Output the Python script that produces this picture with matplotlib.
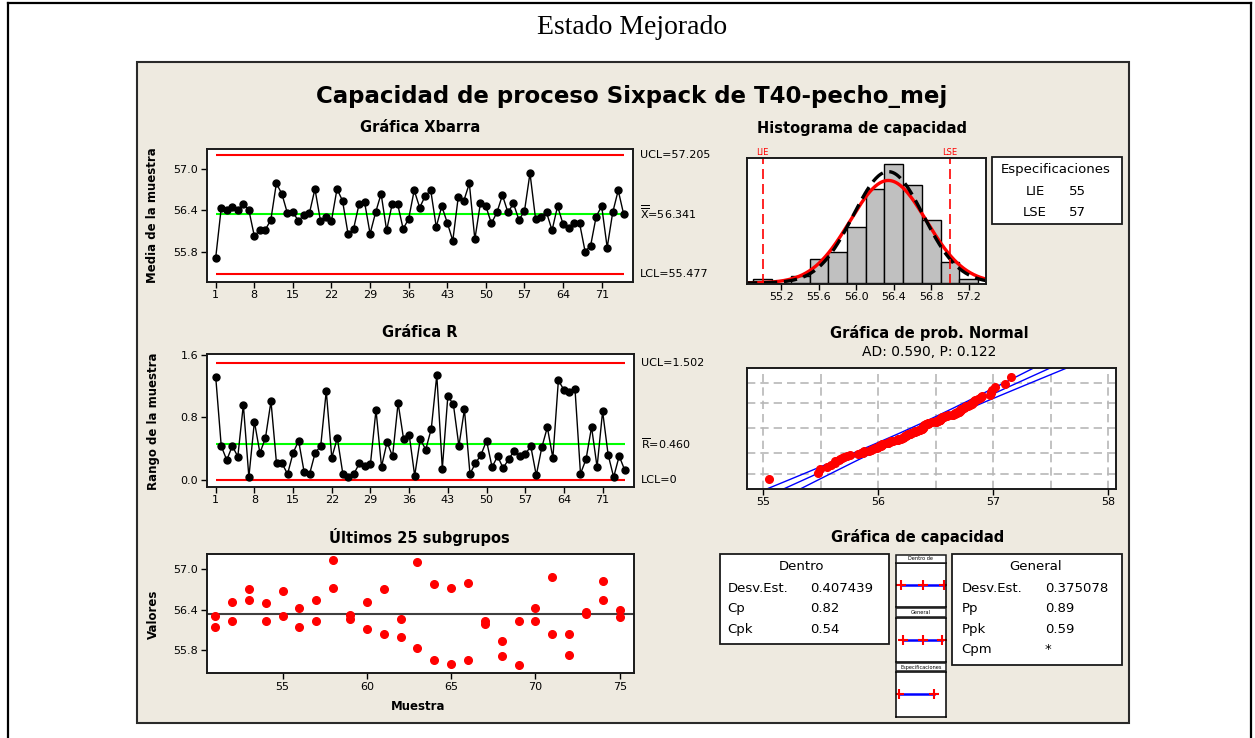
import numpy as np
import matplotlib
matplotlib.use("Agg")
import matplotlib.pyplot as plt
from matplotlib.patches import Rectangle
from matplotlib.lines import Line2D
from statistics import NormalDist

# Medias y rangos de los 75 subgrupos (tamaño 2)
xbar = [55.71, 56.43, 56.41, 56.45, 56.41, 56.49, 56.41, 56.03, 56.11, 56.12,
        56.26, 56.79, 56.64, 56.36, 56.37, 56.25, 56.33, 56.36, 56.71, 56.25,
        56.30, 56.25, 56.71, 56.54, 56.06, 56.13, 56.49, 56.52, 56.06, 56.37,
        56.64, 56.11, 56.49, 56.49, 56.13, 56.28, 56.69, 56.44, 56.61, 56.69,
        56.16, 56.46, 56.22, 55.96, 56.60, 56.54, 56.79, 55.98, 56.50, 56.46,
        56.21, 56.37, 56.62, 56.37, 56.50, 56.26, 56.39, 56.94, 56.28, 56.31,
        56.37, 56.11, 56.46, 56.20, 56.15, 56.21, 56.21, 55.80, 55.89, 56.31,
        56.46, 55.86, 56.37, 56.69, 56.34]
rango = [1.320, 0.435, 0.256, 0.435, 0.300, 0.964, 0.038, 0.747, 0.346, 0.538,
         1.007, 0.213, 0.213, 0.077, 0.346, 0.503, 0.102, 0.081, 0.350, 0.435,
         1.139, 0.286, 0.538, 0.081, 0.034, 0.081, 0.213, 0.175, 0.209, 0.896,
         0.171, 0.484, 0.303, 0.986, 0.520, 0.582, 0.055, 0.522, 0.390, 0.655,
         1.342, 0.147, 1.073, 0.968, 0.435, 0.904, 0.081, 0.213, 0.324, 0.503,
         0.166, 0.303, 0.154, 0.265, 0.375, 0.303, 0.328, 0.435, 0.060, 0.418,
         0.674, 0.282, 1.276, 1.152, 1.122, 1.169, 0.081, 0.265, 0.678, 0.166,
         0.879, 0.324, 0.038, 0.307, 0.128]

# Observaciones individuales de los últimos 25 subgrupos (51-75)
ultimos_sub = list(range(51, 76))
ultimos_a = [56.31, 56.52, 56.70, 56.50, 56.67, 56.42, 56.55, 57.13, 56.32, 56.52,
             56.70, 56.27, 57.11, 56.78, 56.72, 56.80, 56.23, 55.94, 56.24, 56.42,
             56.88, 56.04, 56.37, 56.83, 56.40]
ultimos_b = [56.14, 56.24, 56.55, 56.24, 56.31, 56.14, 56.24, 56.72, 56.26, 56.11,
             56.04, 55.99, 55.83, 55.66, 55.60, 55.66, 56.19, 55.71, 55.58, 56.24,
             56.04, 55.73, 56.34, 56.55, 56.29]

# Histograma (centro de clase, frecuencia)
hist_centros = [55.0, 55.2, 55.4, 55.6, 55.8, 56.0, 56.2, 56.4, 56.6, 56.8, 57.0, 57.2]
hist_frec = [1, 0, 2, 7, 9, 16, 27, 34, 28, 18, 6, 1]

# Estadísticos
media = 56.341
ucl_x, lcl_x = 57.205, 55.477
r_media, ucl_r, lcl_r = 0.460, 1.502, 0.0
lie, lse = 55, 57
s_dentro, s_general = 0.407439, 0.375078
n_total = 150
ancho_clase = 0.2
dentro_txt = [("Desv.Est.", "0.407439"), ("Cp", "0.82"), ("Cpk", "0.54")]
general_txt = [("Desv.Est.", "0.375078"), ("Pp", "0.89"), ("Ppk", "0.59"), ("Cpm", "*")]

W, H = 1255, 738
plt.rcParams['font.family'] = ['DejaVu Sans']
fig = plt.figure(figsize=(W / 100, H / 100), dpi=100)
fig.patch.set_facecolor('white')


def caja(l, t, r, b):
    return [l / W, 1 - b / H, (r - l) / W, (b - t) / H]


def texto(x, y, s, **kw):
    return fig.text(x / W, 1 - y / H, s, **kw)


def rect(l, t, r, b, **kw):
    fig.add_artist(Rectangle((l / W, 1 - b / H), (r - l) / W, (b - t) / H,
                             transform=fig.transFigure, **kw))


def linea(x0, y0, x1, y1, **kw):
    fig.add_artist(Line2D([x0 / W, x1 / W], [1 - y0 / H, 1 - y1 / H],
                          transform=fig.transFigure, **kw))


def estilo(ax):
    for sp in ax.spines.values():
        sp.set_linewidth(1.4)
        sp.set_color('#1a1a1a')
    ax.tick_params(direction='out', length=4, width=1, labelsize=8, pad=2)


# marco exterior y fondo del panel
linea(8, 3, 1251, 3, color='black', lw=1.6)
linea(8, 3, 8, 738, color='black', lw=1.6)
linea(1251, 3, 1251, 738, color='black', lw=1.6)
rect(137, 62, 1129, 723, facecolor='#EEEAE0', edgecolor='#2a2a2a', lw=1.5, zorder=-5)

texto(632, 27, 'Estado Mejorado', family='Liberation Serif', fontsize=20,
      ha='center', va='center')
texto(632, 96, 'Capacidad de proceso Sixpack de T40-pecho_mej', fontsize=16.5,
      fontweight='bold', ha='center', va='center')

sub = np.arange(1, len(xbar) + 1)
tit = dict(fontsize=10.5, fontweight='bold', ha='center', va='center')
ylab = dict(fontsize=8.5, fontweight='bold', rotation=90, ha='center', va='center')

# Gráfica Xbarra
ax1 = fig.add_axes(caja(206.7, 149, 633, 281.7))
ax1.hlines([ucl_x, lcl_x], 1, 75, color='red', lw=1.5)
ax1.hlines(media, 1, 75, color='#00FF00', lw=1.5)
ax1.plot(sub, xbar, '-o', color='black', ms=5, lw=1)
ax1.set_xlim(-0.63, 76.68)
ax1.set_ylim(55.365, 57.29)
ax1.set_xticks(np.arange(1, 76, 7))
ax1.set_yticks([55.8, 56.4, 57.0])
ax1.set_yticklabels(['55.8', '56.4', '57.0'])
estilo(ax1)
tr = ax1.get_yaxis_transform()
ax1.text(1.016, ucl_x, f'UCL={ucl_x:.3f}', transform=tr, fontsize=8, va='center')
ax1.text(1.016, media + 0.03, r'$\overline{\overline{\mathrm{X}}}$' + f'={media:.3f}',
         transform=tr, fontsize=8, va='center')
ax1.text(1.016, lcl_x, f'LCL={lcl_x:.3f}', transform=tr, fontsize=8, va='center')
texto(420, 128, 'Gráfica Xbarra', **tit)
texto(153, 215, 'Media de la muestra', **ylab)

# Gráfica R
ax2 = fig.add_axes(caja(206.7, 354.3, 634, 486.7))
ax2.hlines([ucl_r, lcl_r], 1, 75, color='red', lw=1.5)
ax2.hlines(r_media, 1, 75, color='#00FF00', lw=1.5)
ax2.plot(sub, rango, '-o', color='black', ms=5, lw=1)
ax2.set_xlim(-0.63, 76.68)
ax2.set_ylim(-0.085, 1.608)
ax2.set_xticks(np.arange(1, 76, 7))
ax2.set_yticks([0.0, 0.8, 1.6])
ax2.set_yticklabels(['0.0', '0.8', '1.6'])
estilo(ax2)
tr = ax2.get_yaxis_transform()
ax2.text(1.016, ucl_r, f'UCL={ucl_r:.3f}', transform=tr, fontsize=8, va='center')
ax2.text(1.016, r_media, r'$\overline{\mathrm{R}}$' + f'={r_media:.3f}',
         transform=tr, fontsize=8, va='center')
ax2.text(1.016, lcl_r, 'LCL=0', transform=tr, fontsize=8, va='center')
texto(420, 333, 'Gráfica R', **tit)
texto(153, 421, 'Rango de la muestra', **ylab)

# Últimos 25 subgrupos
ax3 = fig.add_axes(caja(206.7, 554.3, 634, 673.3))
ax3.axhline(media, color='#404040', lw=1.5)
ax3.plot(ultimos_sub, ultimos_a, 'o', color='red', ms=5.5)
ax3.plot(ultimos_sub, ultimos_b, 'o', color='red', ms=5.5)
ax3.set_xlim(50.5, 75.85)
ax3.set_ylim(55.46, 57.22)
ax3.set_xticks([55, 60, 65, 70, 75])
ax3.set_yticks([55.8, 56.4, 57.0])
ax3.set_yticklabels(['55.8', '56.4', '57.0'])
estilo(ax3)
texto(419, 537, 'Últimos 25 subgrupos', **tit)
texto(153, 614, 'Valores', **ylab)
texto(418, 706, 'Muestra', fontsize=8.5, fontweight='bold', ha='center', va='center')

# Histograma de capacidad
ax4 = fig.add_axes(caja(747.3, 157.7, 986, 284))
ax4.bar(hist_centros, hist_frec, width=ancho_clase, color='#C0C0C0',
        edgecolor='black', lw=1.0)
xs = np.linspace(54.8, 57.4, 300)
ax4.plot(xs, n_total * ancho_clase * np.array([NormalDist(media, s_dentro).pdf(v) for v in xs]),
         color='red', lw=2.4)
ax4.plot(xs, n_total * ancho_clase * np.array([NormalDist(media, s_general).pdf(v) for v in xs]),
         color='black', lw=2.4, ls=(0, (4, 2)))
ax4.axvline(lie, color='red', lw=1.2, ls=(0, (6, 3)))
ax4.axvline(lse, color='red', lw=1.2, ls=(0, (6, 3)))
ax4.set_xlim(54.836, 57.384)
ax4.set_ylim(-0.3, 35.9)
ax4.set_yticks([])
ax4.set_xticks([55.2, 55.6, 56.0, 56.4, 56.8, 57.2])
estilo(ax4)
ax4.text(lie, 1.04, 'LIE', transform=ax4.get_xaxis_transform(), color='red',
         fontsize=6, ha='center', va='center')
ax4.text(lse, 1.04, 'LSE', transform=ax4.get_xaxis_transform(), color='red',
         fontsize=6, ha='center', va='center')
texto(862, 128, 'Histograma de capacidad', **tit)

rect(992.3, 157.3, 1121.7, 224.3, facecolor='white', edgecolor='#1a1a1a', lw=1.3)
texto(1056, 170, 'Especificaciones', fontsize=9.5, ha='center', va='center')
texto(1035, 191.5, 'LIE', fontsize=9.5, ha='center', va='center')
texto(1077, 191.5, f'{lie}', fontsize=9.5, ha='center', va='center')
texto(1035, 212, 'LSE', fontsize=9.5, ha='center', va='center')
texto(1077, 212, f'{lse}', fontsize=9.5, ha='center', va='center')

# Gráfica de probabilidad normal
datos = np.sort(np.concatenate([np.array(xbar) - np.array(rango) / 2,
                                np.array(xbar) + np.array(rango) / 2]))
nd = NormalDist()
n = len(datos)
z = np.array([nd.inv_cdf((i - 0.3) / (n + 0.4)) for i in range(1, n + 1)])
zz = np.linspace(-3.5, 3.5, 100)
ajuste = media + s_general * zz
ee = s_general * np.sqrt(1 / n + zz ** 2 / (2 * (n - 1)))

ax5 = fig.add_axes(caja(747.3, 368.3, 1115.7, 489))
ax5.set_axisbelow(True)
ax5.plot(ajuste, zz, color='blue', lw=1)
ax5.plot(ajuste - 1.96 * ee, zz, color='blue', lw=1)
ax5.plot(ajuste + 1.96 * ee, zz, color='blue', lw=1)
ax5.plot(datos, z, 'o', color='red', ms=5.5)
ax5.set_xlim(54.86, 58.064)
ax5.set_ylim(-3.11, 3.06)
ax5.set_xticks([55, 56, 57, 58])
ax5.set_xticks([55.5, 56.5, 57.5], minor=True)
ax5.set_yticks([nd.inv_cdf(p) for p in (0.01, 0.10, 0.50, 0.90, 0.99)])
ax5.grid(True, which='both', color='#B8B8B8', ls=(0, (5, 3)), lw=1.2)
estilo(ax5)
ax5.tick_params(axis='y', length=0, labelleft=False)
ax5.tick_params(axis='x', which='minor', length=0)
texto(929, 333, 'Gráfica de prob. Normal', **tit)
texto(929, 352, 'AD: 0.590, P: 0.122', fontsize=10, ha='center', va='center')

# Gráfica de capacidad
texto(918, 537, 'Gráfica de capacidad', **tit)
rect(719.7, 554.3, 889, 644.3, facecolor='white', edgecolor='#1a1a1a', lw=1.3)
texto(801, 567, 'Dentro', fontsize=9.5, ha='center', va='center')
for k, (et, val) in enumerate(dentro_txt):
    y = 588.3 + k * 20.5
    texto(727.7, y, et, fontsize=9.5, va='center')
    texto(810, y, val, fontsize=9.5, va='center')

rect(952.3, 554.3, 1122.3, 665, facecolor='white', edgecolor='#1a1a1a', lw=1.3)
texto(1035.7, 567, 'General', fontsize=9.5, ha='center', va='center')
for k, (et, val) in enumerate(general_txt):
    y = 588.3 + k * 20.5
    texto(961.7, y, et, fontsize=9.5, va='center')
    texto(1045, y, val, fontsize=9.5, va='center')

intervalos = [('Dentro de', media - 3 * s_dentro, media, media + 3 * s_dentro),
              ('General', media - 3 * s_general, media, media + 3 * s_general),
              ('Especificaciones', lie, None, lse)]
cabeceras = [(555, 562.7), (608.3, 617.3), (663.3, 670.7)]
cuerpos = [(563.3, 607.3), (618.3, 662.3), (671.7, 716.7)]
for (nombre, a, c, b), (ht, hb), (bt, bb) in zip(intervalos, cabeceras, cuerpos):
    rect(895.7, ht, 946, hb, facecolor='white', edgecolor='#1a1a1a', lw=1.1)
    texto(920.8, (ht + hb) / 2, nombre, fontsize=3.6, ha='center', va='center')
    axm = fig.add_axes(caja(895.7, bt, 946, bb))
    axm.plot([a, b], [0.5, 0.5], color='blue', lw=1.8)
    pts = [a, b] if c is None else [a, c, b]
    axm.plot(pts, [0.5] * len(pts), '+', color='red', ms=7, mew=1.5)
    axm.set_xlim(54.79, 57.69)
    axm.set_ylim(0, 1)
    axm.set_xticks([])
    axm.set_yticks([])
    for sp in axm.spines.values():
        sp.set_linewidth(1.1)

fig.savefig('out.png', dpi=100)
